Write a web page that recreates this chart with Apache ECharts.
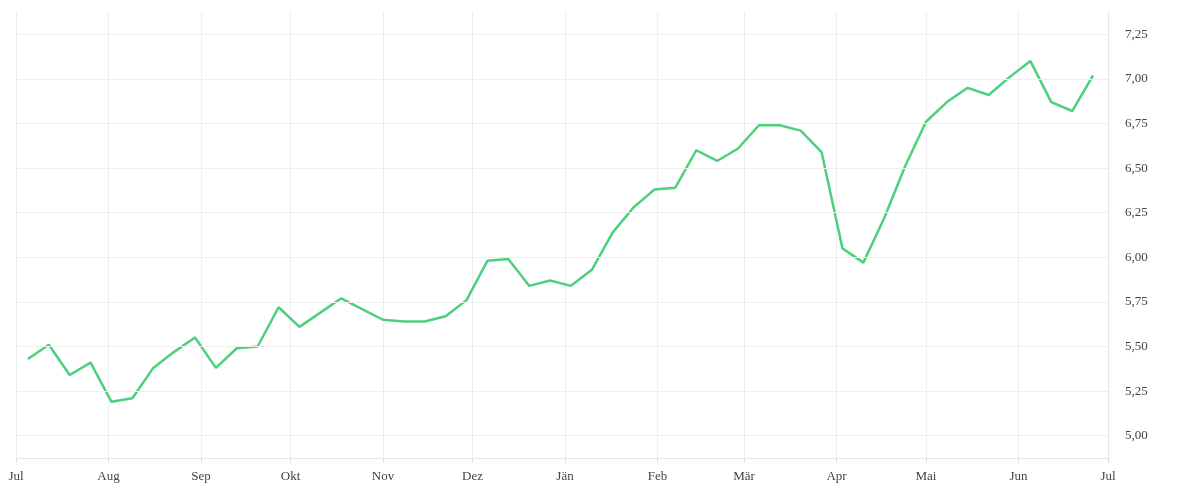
<!DOCTYPE html><html><head><meta charset="utf-8"><script src="https://cdn.jsdelivr.net/npm/echarts@6/dist/echarts.min.js"></script></head><body style="margin:0"><div id="c" style="width:1200px;height:500px"></div><script>
const dates=['2023-07-05','2023-07-12','2023-07-19','2023-07-26','2023-08-02','2023-08-09','2023-08-16','2023-08-23','2023-08-30','2023-09-06','2023-09-13','2023-09-20','2023-09-27','2023-10-04','2023-10-11','2023-10-18','2023-10-25','2023-11-01','2023-11-08','2023-11-15','2023-11-22','2023-11-29','2023-12-06','2023-12-13','2023-12-20','2023-12-27','2024-01-03','2024-01-10','2024-01-17','2024-01-24','2024-01-31','2024-02-07','2024-02-14','2024-02-21','2024-02-28','2024-03-06','2024-03-13','2024-03-20','2024-03-27','2024-04-03','2024-04-10','2024-04-17','2024-04-24','2024-05-01','2024-05-08','2024-05-15','2024-05-22','2024-05-29','2024-06-05','2024-06-12','2024-06-19','2024-06-26'];
const values=[5.43,5.51,5.34,5.41,5.19,5.21,5.38,5.47,5.55,5.38,5.49,5.50,5.72,5.61,5.69,5.77,5.71,5.65,5.64,5.64,5.67,5.76,5.98,5.99,5.84,5.87,5.84,5.93,6.14,6.28,6.38,6.39,6.60,6.54,6.61,6.74,6.74,6.71,6.59,6.05,5.97,6.22,6.51,6.76,6.87,6.95,6.91,7.01,7.10,6.87,6.82,7.02];
const yTicks=[5.00,5.25,5.50,5.75,6.00,6.25,6.50,6.75,7.00,7.25];
const months=['Jän','Feb','Mär','Apr','Mai','Jun','Jul','Aug','Sep','Okt','Nov','Dez'];
const font='"Liberation Serif", serif';
const ch=echarts.init(document.getElementById('c'));
ch.setOption({
 animation:false,
 grid:{left:16,right:92,top:12,bottom:42},
 xAxis:{type:'time',min:'2023-07-01',max:'2024-07-01',minInterval:28*864e5,maxInterval:31*864e5,
  axisLine:{show:true,lineStyle:{color:'#e6e6e6'}},axisTick:{show:true,length:5,lineStyle:{color:'#ddd'}},
  splitLine:{show:true,lineStyle:{color:'#eeeeee'}},
  axisLabel:{color:'#444',fontFamily:font,fontSize:13,margin:12,hideOverlap:false,showMinLabel:true,showMaxLabel:true,
   formatter:v=>months[new Date(v).getMonth()]}},
 yAxis:{type:'value',position:'right',min:4.875,max:7.375,interval:0.125,
  axisLine:{show:true,lineStyle:{color:'#e6e6e6'}},axisTick:{show:false},
  splitLine:{show:false},
  axisLabel:{color:'#444',fontFamily:font,fontSize:13,margin:17,
   formatter:v=>{const r=Math.round(v*1000);return r%250===0?(v.toFixed(2).replace('.',',')):'';}}},
 series:[{type:'line',data:dates.map((d,i)=>[d,values[i]]),showSymbol:false,lineStyle:{color:'#4cd07d',width:2.5},itemStyle:{color:'#4cd07d'},
  markLine:{silent:true,symbol:'none',label:{show:false},lineStyle:{color:'#eeeeee',type:'solid',width:1},
   data:yTicks.concat([7.375]).map(v=>({yAxis:v}))}}]
});
</script></body></html>
